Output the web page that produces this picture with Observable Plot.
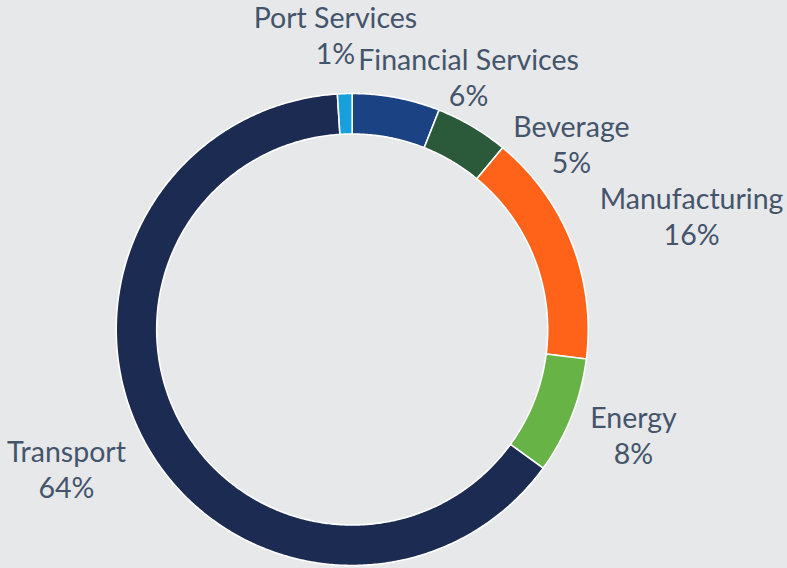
<!DOCTYPE html>
<html><head><meta charset="utf-8">
<script src="https://cdn.jsdelivr.net/npm/d3@7"></script>
<script src="https://cdn.jsdelivr.net/npm/@observablehq/plot@0.6"></script>
<style>
html,body{margin:0;padding:0;background:#E7E8EA;}
#chart{width:787px;height:568px;overflow:hidden;}
</style></head><body><div id="chart"></div>
<script>
// Data (clockwise from 12 o'clock)
const categories = ["Financial Services", "Beverage", "Manufacturing", "Energy", "Transport", "Port Services"];
const shares = [6, 5, 16, 8, 64, 1];
const colors = ["#1B4283", "#2B5A3B", "#FE6319", "#67B346", "#1C2B51", "#17A0DB"];
// Label placement (centre of label, baseline of the % line), in outer-radius units from donut centre
const labelDX = [0.493, 0.929, 1.438, 1.192, -1.211, -0.071];
const labelDY = [-0.949, -0.665, -0.356, 0.572, 0.712, -1.125];

const W = 787, H = 568, cx = 351.7, cy = 329, R = 236, innerRatio = 195.5 / 236;

const arcs = d3.pie().sort(null).value(d => d)(shares);
const pts = [];
arcs.forEach((a, i) => {
  const n = Math.max(4, Math.ceil((a.endAngle - a.startAngle) / (Math.PI / 360)));
  for (let k = 0; k <= n; k++) {
    const t = a.startAngle + (a.endAngle - a.startAngle) * k / n;
    pts.push({cat: categories[i], x: Math.sin(t), y: -Math.cos(t)});
  }
  for (let k = n; k >= 0; k--) {
    const t = a.startAngle + (a.endAngle - a.startAngle) * k / n;
    pts.push({cat: categories[i], x: innerRatio * Math.sin(t), y: -innerRatio * Math.cos(t)});
  }
});
const labels = categories.map((c, i) => ({
  text: `${c}\n${Math.round(shares[i])}%`, x: labelDX[i], y: labelDY[i]
}));

const chart = Plot.plot({
  width: W, height: H, margin: 0,
  style: {background: "transparent", overflow: "visible"},
  x: {domain: [-cx / R, (W - cx) / R], range: [0, W], axis: null},
  y: {domain: [-cy / R, (H - cy) / R], range: [0, H], axis: null},
  color: {domain: categories, range: colors},
  marks: [
    Plot.line(pts, {x: "x", y: "y", z: "cat", fill: "cat", stroke: "white", strokeWidth: 1.6, curve: "linear-closed"}),
    Plot.text(labels, {x: "x", y: "y", text: "text", fill: "#44546A", fontSize: 28.5, fontFamily: "Lato",
      textAnchor: "middle", lineAnchor: "bottom", lineHeight: 36 / 28.5})
  ]
});
document.getElementById("chart").appendChild(chart);
</script></body></html>
